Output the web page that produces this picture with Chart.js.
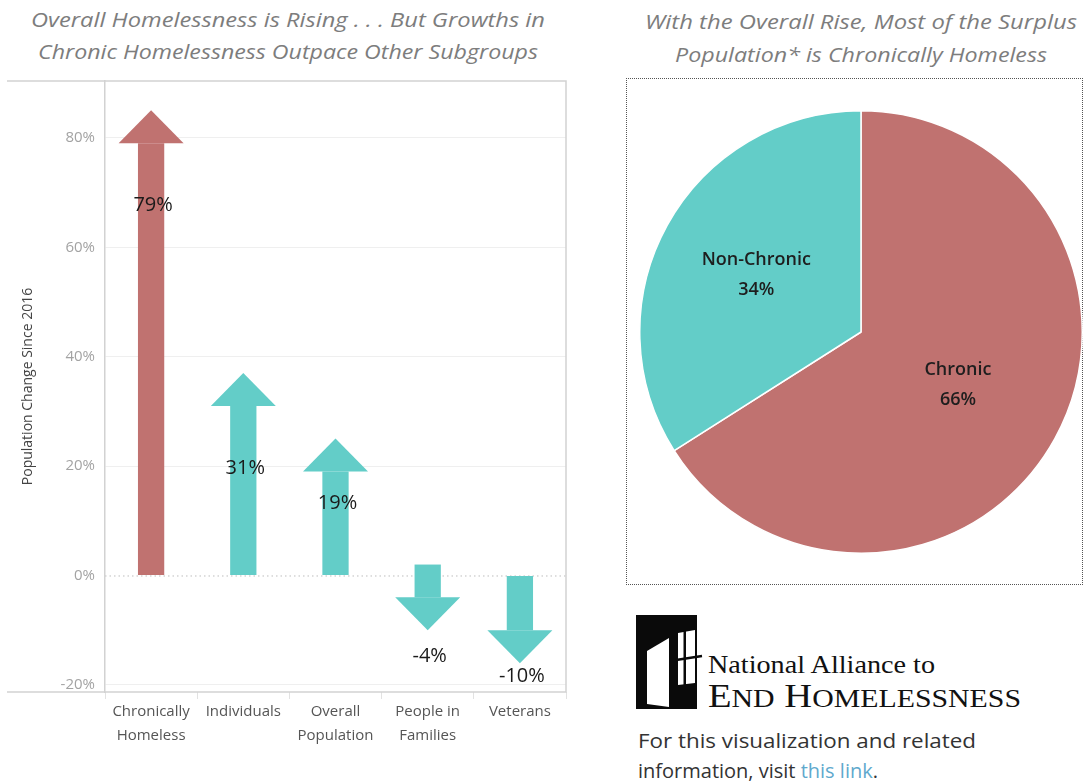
<!DOCTYPE html>
<html><head><meta charset="utf-8">
<script src="https://cdn.jsdelivr.net/npm/chart.js@4.4.0/dist/chart.umd.min.js"></script>
<style>
html,body{margin:0;padding:0;background:#fff;width:1086px;height:782px;overflow:hidden;font-family:"Open Sans",sans-serif}
#barWrap{position:absolute;left:0;top:62px;width:580px;height:708px}
#pieBox{position:absolute;left:626px;top:78px;width:457px;height:507px;border:1px dotted #555;box-sizing:border-box}
#pieWrap{position:absolute;left:639px;top:110px;width:444px;height:444px}
svg.txt{position:absolute;left:0;top:0}
</style>
</head><body>
<svg class="txt" width="1086" height="782" xmlns="http://www.w3.org/2000/svg">
  <g font-family="Open Sans" font-style="italic" font-size="19.5" fill="#7d7d7d" text-anchor="middle">
    <text x="288" y="27" textLength="514" lengthAdjust="spacingAndGlyphs">Overall Homelessness is Rising . . . But Growths in</text>
    <text x="288" y="59" textLength="500" lengthAdjust="spacingAndGlyphs">Chronic Homelessness Outpace Other Subgroups</text>
    <text x="861" y="29" textLength="432" lengthAdjust="spacingAndGlyphs">With the Overall Rise, Most of the Surplus</text>
    <text x="861" y="62" textLength="372" lengthAdjust="spacingAndGlyphs">Population* is Chronically Homeless</text>
  </g>
  <g transform="translate(636,614)">
    <rect x="0" y="1" width="61" height="94" fill="#0a0a0a"/>
    <polygon points="11,37 33,24 33,93 11,90" fill="#fff"/>
    <polygon points="42,19 59,16 59,69 42,71" fill="#fff"/>
    <rect x="47.5" y="16" width="2.5" height="56" fill="#0a0a0a"/>
    <line x1="40" y1="46" x2="66" y2="42" stroke="#0a0a0a" stroke-width="2.5"/>
  </g>
  <g font-family="Liberation Serif" fill="#111">
    <text x="708" y="673" font-size="25" textLength="227" lengthAdjust="spacingAndGlyphs">National Alliance to</text>
    <text x="708" y="707" textLength="313" lengthAdjust="spacingAndGlyphs"><tspan font-size="33">E</tspan><tspan font-size="25.5">ND</tspan><tspan font-size="33"> H</tspan><tspan font-size="25.5">OMELESSNESS</tspan></text>
  </g>
  <g font-family="Open Sans" font-size="20" fill="#333">
    <text x="638" y="748" textLength="338" lengthAdjust="spacingAndGlyphs">For this visualization and related</text>
    <text x="638" y="778">information, visit <tspan fill="#5fa9cd">this link</tspan>.</text>
  </g>
</svg>
<div id="barWrap"><canvas id="bars"></canvas></div>
<div id="pieBox"></div>
<div id="pieWrap"><canvas id="pie"></canvas></div>
<script>
// ---- data ----
const categories = [['Chronically','Homeless'],['Individuals'],['Overall','Population'],['People in','Families'],['Veterans']];
const changePct = [79, 31, 19, -4, -10];
const arrowStart = [0, 0, 0, 2, 0];
const yTickValues = [-20, 0, 20, 40, 60, 80];
const pieLabels = ['Chronic', 'Non-Chronic'];
const pieShares = [66, 34];

const RED = '#C07270', CYAN = '#63CDC8';
const barColors = categories.map((c,i)=> i===0 ? RED : CYAN);
const FONT = 'Open Sans';

const arrowPlugin = {
  id:'arrowHeads',
  beforeDraw(chart){
    const {ctx, chartArea:a, scales:{y}} = chart;
    ctx.save();
    const z = y.getPixelForValue(0);
    ctx.strokeStyle = '#bdbdbd'; ctx.lineWidth = 1; ctx.setLineDash([1.5,3]);
    ctx.beginPath(); ctx.moveTo(a.left, z+0.5); ctx.lineTo(a.right, z+0.5); ctx.stroke();
    ctx.restore();
  },
  afterDatasetsDraw(chart){
    const {ctx, chartArea:a, scales:{y}} = chart;
    const meta = chart.getDatasetMeta(0);
    const zero = y.getPixelForValue(0);
    ctx.save();
    meta.data.forEach((el,i)=>{
      const v = changePct[i];
      const dir = v >= 0 ? -1 : 1;
      const hw = 32.5, hl = 33;
      ctx.fillStyle = barColors[i];
      ctx.beginPath();
      ctx.moveTo(el.x - hw, el.y);
      ctx.lineTo(el.x + hw, el.y);
      ctx.lineTo(el.x, el.y + dir*hl);
      ctx.closePath(); ctx.fill();
      let ly;
      if (v >= 0) ly = Math.min(el.y + 62, zero - 72);
      else ly = Math.min(el.y + hl + 26, a.bottom - 16);
      ctx.fillStyle = '#1a1a1a';
      ctx.font = '20px "'+FONT+'"';
      ctx.textAlign = 'center'; ctx.textBaseline = 'middle';
      ctx.fillText(v + '%', el.x + 2, ly);
    });
    ctx.restore();
  },
  afterDraw(chart){
    const {ctx, chartArea:a} = chart;
    ctx.save();
    ctx.strokeStyle = '#d2d2d2'; ctx.lineWidth = 1.5;
    ctx.beginPath();
    ctx.moveTo(7, a.top); ctx.lineTo(a.right, a.top); ctx.lineTo(a.right, a.bottom); ctx.lineTo(7, a.bottom);
    ctx.stroke();
    ctx.restore();
  }
};

new Chart(document.getElementById('bars'), {
  type:'bar',
  data:{ labels:categories, datasets:[{
    data: changePct.map((v,i)=>[arrowStart[i], v]),
    backgroundColor: barColors, borderWidth:0,
    barPercentage:0.285, categoryPercentage:1
  }]},
  options:{
    responsive:true, maintainAspectRatio:false, animation:false,
    layout:{padding:{top:1,right:14,left:0,bottom:0}},
    plugins:{legend:{display:false}, tooltip:{enabled:false}},
    scales:{
      y:{
        min:-21.3, max:90.4,
        afterBuildTicks(s){ s.ticks = yTickValues.map(v=>({value:v})); },
        ticks:{callback:v=>v+'%', color:'#a3a3a3', font:{size:15, family:FONT}, padding:10},
        grid:{color:c=> (c.tick && c.tick.value===0) ? 'rgba(0,0,0,0)' : '#efefef', drawTicks:false, lineWidth:1},
        border:{color:'#d2d2d2', width:1.5},
        title:{display:true, text:'Population Change Since 2016', color:'#444', font:{size:14, family:FONT}, padding:{top:20,bottom:0}},
        afterFit(s){ s.width = 105; }
      },
      x:{
        grid:{display:true, offset:true, drawOnChartArea:false, drawTicks:true, tickLength:7, tickColor:'#e2e2e2', color:'#e2e2e2'},
        border:{display:false},
        ticks:{color:'#555', font:{size:15, family:FONT, lineHeight:1.65}, padding:0, maxRotation:0, autoSkip:false},
        afterFit(s){ s.height = 78; }
      }
    }
  },
  plugins:[arrowPlugin]
});

const pieLabelPlugin = {
  id:'pieLabels',
  afterDatasetsDraw(chart){
    const {ctx} = chart;
    const meta = chart.getDatasetMeta(0);
    ctx.save();
    ctx.fillStyle = '#1e1e1e';
    ctx.font = '600 18px "'+FONT+'"';
    ctx.textAlign = 'center'; ctx.textBaseline = 'middle';
    meta.data.forEach((el,i)=>{
      const mid = (el.startAngle + el.endAngle)/2;
      const r = el.outerRadius * (i===0 ? 0.5 : 0.54);
      const x = el.x + Math.cos(mid)*r, y = el.y + Math.sin(mid)*r;
      ctx.fillText(pieLabels[i], x, y - 15);
      ctx.fillText(pieShares[i] + '%', x, y + 15);
    });
    ctx.restore();
  }
};

new Chart(document.getElementById('pie'), {
  type:'pie',
  data:{ labels:pieLabels, datasets:[{ data:pieShares, backgroundColor:[RED, CYAN], borderColor:'#fff', borderWidth:1.5 }]},
  options:{
    responsive:true, maintainAspectRatio:false, animation:false,
    layout:{padding:0},
    plugins:{legend:{display:false}, tooltip:{enabled:false}}
  },
  plugins:[pieLabelPlugin]
});
</script>
</body></html>
